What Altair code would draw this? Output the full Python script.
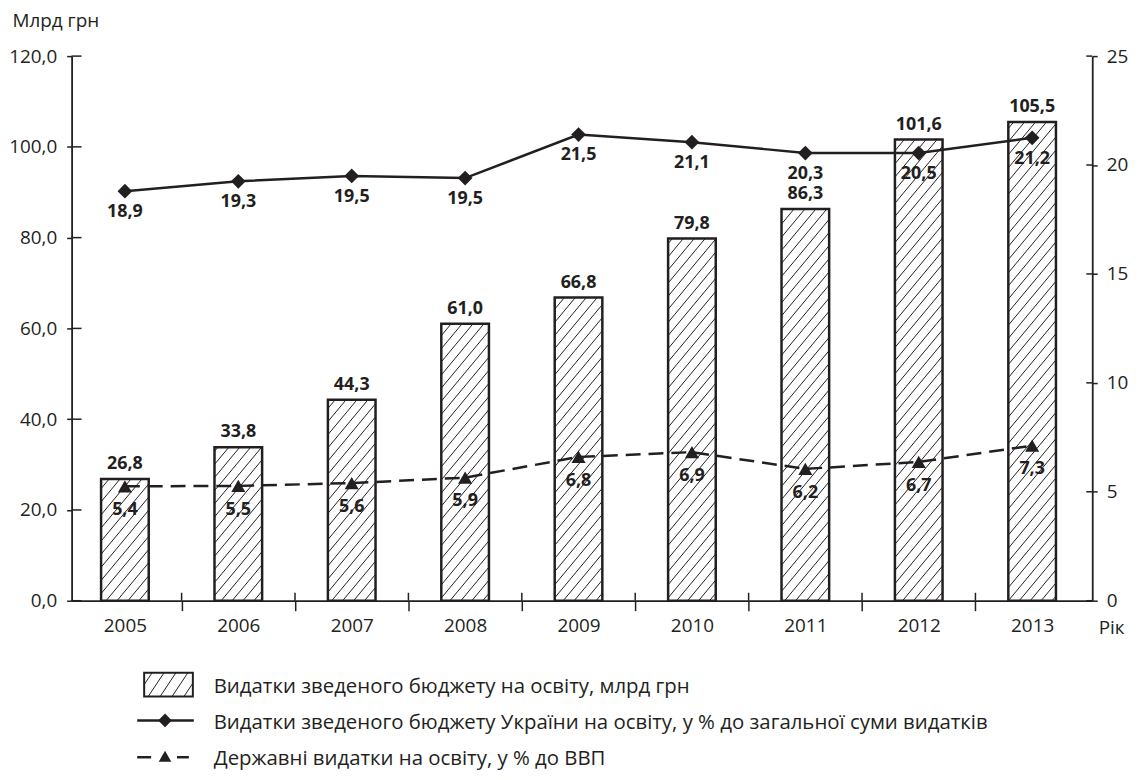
import altair as alt
import pandas as pd
import numpy as np

# ---------------- data ----------------
years = [2005, 2006, 2007, 2008, 2009, 2010, 2011, 2012, 2013]
budget = [26.8, 33.8, 44.3, 61.0, 66.8, 79.8, 86.3, 101.6, 105.5]
budget_labels = ["26,8", "33,8", "44,3", "61,0", "66,8", "79,8", "86,3", "101,6", "105,5"]
share_total = [18.8, 19.25, 19.5, 19.4, 21.4, 21.05, 20.55, 20.55, 21.25]
share_total_labels = ["18,9", "19,3", "19,5", "19,5", "21,5", "21,1", "20,3", "20,5", "21,2"]
share_gdp = [5.25, 5.27, 5.4, 5.65, 6.6, 6.82, 6.05, 6.37, 7.12]
share_gdp_labels = ["5,4", "5,5", "5,6", "5,9", "6,8", "6,9", "6,2", "6,7", "7,3"]
left_ticks = [0, 20, 40, 60, 80, 100, 120]
right_ticks = [0, 5, 10, 15, 20, 25]
legend_labels = [
    "Видатки зведеного бюджету на освіту, млрд грн",
    "Видатки зведеного бюджету України на освіту, у % до загальної суми видатків",
    "Державні видатки на освіту, у % до ВВП",
]

# ---------------- layout / style ----------------
W, H = 1027, 548
X0, X1 = 2004.53, 2013.53
PX_PER_YEAR = W / (X1 - X0)
PX_PER_UNIT = H / 120.0
BAR_HALF = 0.21
INK = "#231f20"
FONT = "Open Sans"
HATCH_SPACING = 11.0
HATCH_SLOPE = 1.2

df = pd.DataFrame({
    "year": years,
    "budget": budget,
    "budget_label": budget_labels,
    "share_total": share_total,
    "share_total_label": share_total_labels,
    "share_gdp": share_gdp,
    "share_gdp_label": share_gdp_labels,
})
df["x0"] = df["year"] - BAR_HALF
df["x1"] = df["year"] + BAR_HALF


def hatch_segments(w, h, spacing, slope):
    segs = []
    c = -h / slope
    rem = (-c) % spacing
    if rem:
        c = c + (spacing - rem)
    while c < w:
        xs = max(0.0, c)
        xe = min(w, c + h / slope)
        if xe > xs + 0.5:
            segs.append((xs, slope * (xs - c), xe, slope * (xe - c)))
        c += spacing
    return segs


rows = []
for yr, v in zip(years, budget):
    w_px = 2 * BAR_HALF * PX_PER_YEAR
    h_px = v * PX_PER_UNIT
    for xs, ys, xe, ye in hatch_segments(w_px, h_px, HATCH_SPACING, HATCH_SLOPE):
        rows.append({
            "hx": yr - BAR_HALF + xs / PX_PER_YEAR,
            "hx2": yr - BAR_HALF + xe / PX_PER_YEAR,
            "hy": ys / PX_PER_UNIT,
            "hy2": ye / PX_PER_UNIT,
        })
hatch_df = pd.DataFrame(rows)

xscale = alt.Scale(domain=[X0, X1], nice=False, zero=False)
lscale = alt.Scale(domain=[0, 120], nice=False, zero=True)
rscale = alt.Scale(domain=[0, 25], nice=False, zero=True)

boundaries = [y + 0.5 for y in years[:-1]]
x_axis_values = sorted(years + boundaries)

x_axis = alt.Axis(
    orient="bottom",
    values=x_axis_values,
    labelExpr="datum.value % 1 == 0 ? toString(datum.value) : ''",
    labelOverlap=False,
    tickSize=10,
    tickOpacity={"condition": {"test": "datum.value % 1 == 0", "value": 0}, "value": 1},
    labelPadding=6,
    title="Рік",
    titleX=W + 6,
    titleY=27,
    titleAlign="left",
    titleBaseline="middle",
    titleFontWeight="normal",
    titleFontSize=19,
    titleFont=FONT,
    titleColor=INK,
)

left_axis = alt.Axis(
    orient="left",
    values=left_ticks,
    labelExpr="replace(format(datum.value, '.1f'), '.', ',')",
    tickSize=5,
    labelPadding=10,
    title="Млрд грн",
    titleAngle=0,
    titleX=-60,
    titleY=-36,
    titleAlign="left",
    titleBaseline="middle",
    titleFontWeight="normal",
    titleFontSize=19,
    titleFont=FONT,
    titleColor=INK,
)

right_axis = alt.Axis(
    orient="right",
    values=right_ticks,
    tickSize=5,
    labelPadding=9,
    title=None,
)

one = pd.DataFrame({"a": [0]})


def X(field):
    return alt.X(field, scale=xscale, axis=x_axis)


def YL(field):
    return alt.Y(field, scale=lscale, axis=left_axis)


def YR(field):
    return alt.Y(field, scale=rscale, axis=right_axis)


# ---------------- left-scale group ----------------
bars_fill = alt.Chart(df).mark_bar(fill="white", strokeWidth=0).encode(
    x=X("x0:Q"), x2="x1:Q", y=YL("budget:Q"), y2=alt.datum(0),
)
hatch = alt.Chart(hatch_df).mark_rule(color=INK, strokeWidth=1).encode(
    x=X("hx:Q"), x2="hx2:Q", y=YL("hy:Q"), y2="hy2:Q",
)
bars_outline = alt.Chart(df).mark_bar(fill="transparent", stroke=INK, strokeWidth=2.5).encode(
    x=X("x0:Q"), x2="x1:Q", y=YL("budget:Q"), y2=alt.datum(0),
)
bar_labels = alt.Chart(df).mark_text(
    font=FONT, fontSize=18, fontWeight="bold", color=INK, dy=-15, baseline="middle"
).encode(x=X("year:Q"), y=YL("budget:Q"), text="budget_label:N")
left_inner = alt.Chart(pd.DataFrame({"v": left_ticks})).mark_rule(color=INK, strokeWidth=1.5).encode(
    y=YL("v:Q"), x=alt.value(0), x2=alt.value(10),
)
x_inner = alt.Chart(pd.DataFrame({"b": boundaries})).mark_rule(color=INK, strokeWidth=1.5).encode(
    x=X("b:Q"), y=alt.value(H - 8), y2=alt.value(H),
)
left_group = alt.layer(bars_fill, hatch, bars_outline, bar_labels, left_inner, x_inner)

# ---------------- right-scale group ----------------
line_total = alt.Chart(df).mark_line(color=INK, strokeWidth=2.5).encode(
    x=X("year:Q"), y=YR("share_total:Q"),
)
pts_total = alt.Chart(df).mark_point(shape="diamond", filled=True, size=220, color=INK, opacity=1).encode(
    x=X("year:Q"), y=YR("share_total:Q"),
)
lbl_total = alt.Chart(df).mark_text(
    font=FONT, fontSize=18, fontWeight="bold", color=INK, dy=21, baseline="middle"
).encode(x=X("year:Q"), y=YR("share_total:Q"), text="share_total_label:N")
line_gdp = alt.Chart(df).mark_line(color=INK, strokeWidth=2.5, strokeDash=[15, 8]).encode(
    x=X("year:Q"), y=YR("share_gdp:Q"),
)
pts_gdp = alt.Chart(df).mark_point(shape="triangle-up", filled=True, size=200, color=INK, opacity=1).encode(
    x=X("year:Q"), y=YR("share_gdp:Q"),
)
lbl_gdp = alt.Chart(df).mark_text(
    font=FONT, fontSize=18, fontWeight="bold", color=INK, dy=24, baseline="middle"
).encode(x=X("year:Q"), y=YR("share_gdp:Q"), text="share_gdp_label:N")
right_inner = alt.Chart(pd.DataFrame({"v": right_ticks})).mark_rule(color=INK, strokeWidth=1.5).encode(
    y=YR("v:Q"), x=alt.value(W - 6), x2=alt.value(W),
)
right_group = alt.layer(line_total, line_gdp, pts_total, pts_gdp, lbl_total, lbl_gdp, right_inner)

# ---------------- legend (drawn manually) ----------------
LX_SYM0, LX_SYM1 = 73, 122
LY_RECT0, LY_RECT1 = 620.5, 644.5
LX_TEXT = 143
LY_ROWS = [635, 671, 707]

legend_layers = []
legend_layers.append(
    alt.Chart(one).mark_rect(fill="white", stroke=INK, strokeWidth=2).encode(
        x=alt.value(LX_SYM0), x2=alt.value(LX_SYM1), y=alt.value(LY_RECT0), y2=alt.value(LY_RECT1)
    )
)
for xs, ys, xe, ye in hatch_segments(LX_SYM1 - LX_SYM0, LY_RECT1 - LY_RECT0, 12, 1.5):
    legend_layers.append(
        alt.Chart(one).mark_rule(color=INK, strokeWidth=1).encode(
            x=alt.value(LX_SYM0 + xs), x2=alt.value(LX_SYM0 + xe),
            y=alt.value(LY_RECT1 - ys), y2=alt.value(LY_RECT1 - ye),
        )
    )
legend_layers.append(
    alt.Chart(one).mark_rule(color=INK, strokeWidth=2.5).encode(
        x=alt.value(66), x2=alt.value(123), y=alt.value(668.5)
    )
)
legend_layers.append(
    alt.Chart(one).mark_point(shape="diamond", filled=True, size=190, color=INK, opacity=1).encode(
        x=alt.value(94), y=alt.value(668.5)
    )
)
legend_layers.append(
    alt.Chart(one).mark_rule(color=INK, strokeWidth=2.5).encode(
        x=alt.value(66), x2=alt.value(80), y=alt.value(705.5)
    )
)
legend_layers.append(
    alt.Chart(one).mark_rule(color=INK, strokeWidth=2.5).encode(
        x=alt.value(106), x2=alt.value(118), y=alt.value(705.5)
    )
)
legend_layers.append(
    alt.Chart(one).mark_point(shape="triangle-up", filled=True, size=160, color=INK, opacity=1).encode(
        x=alt.value(94), y=alt.value(704.5)
    )
)
legend_df = pd.DataFrame({"label": legend_labels, "row": [0, 1, 2]})
for i, lab in enumerate(legend_labels):
    legend_layers.append(
        alt.Chart(legend_df[legend_df.row == i]).mark_text(
            font=FONT, fontSize=20.5, color=INK, align="left", baseline="middle"
        ).encode(x=alt.value(LX_TEXT), y=alt.value(LY_ROWS[i]), text="label:N")
    )

chart = (
    alt.layer(left_group, right_group, *legend_layers)
    .resolve_scale(y="independent")
    .properties(
        width=W,
        height=H,
        autosize=alt.AutoSizeParams(type="none"),
        padding={"left": 64, "top": 46, "right": 40, "bottom": 176},
    )
    .configure_view(strokeWidth=0)
    .configure_axis(
        grid=False,
        domainColor=INK,
        domainWidth=1.8,
        tickColor=INK,
        tickWidth=1.5,
        labelColor=INK,
        labelFont=FONT,
        labelFontSize=19,
    )
)

chart.save("out.html", embed_options={"renderer": "svg", "actions": False})
